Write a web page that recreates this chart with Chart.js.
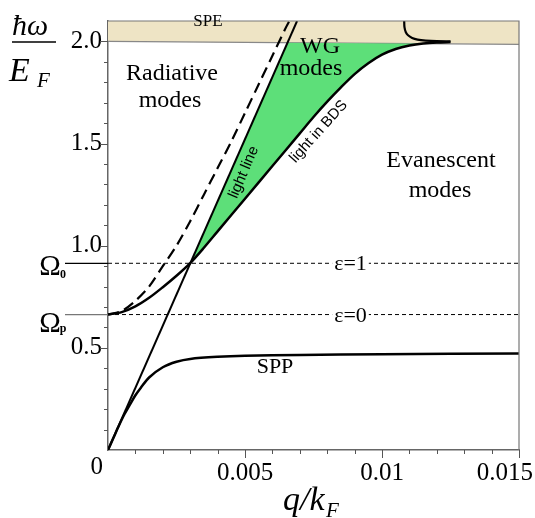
<!DOCTYPE html>
<html>
<head>
<meta charset="utf-8">
<script src="https://cdn.jsdelivr.net/npm/chart.js@4.4.1/dist/chart.umd.min.js"></script>
<style>
  body { margin: 0; background: #fff; }
</style>
</head>
<body>
<canvas id="chart" width="535" height="518"></canvas>
<script>
// dispersion curves (q/kF, hbar*omega/EF)
const qLight = [0, 0.0069];
const wLight = [0, 2.1];

const qDashed = [0, 0.0005, 0.001, 0.0015, 0.002, 0.0025, 0.003, 0.0035, 0.004, 0.0045, 0.005, 0.0055, 0.006, 0.0065, 0.0067];
const wDashed = [0.663, 0.68, 0.73, 0.80, 0.90, 1.0, 1.12, 1.25, 1.38, 1.51, 1.65, 1.79, 1.93, 2.07, 2.12];

const qBds = [0, 0.0005, 0.001, 0.0015, 0.002, 0.0025, 0.003, 0.0035, 0.004, 0.005, 0.006, 0.007, 0.0075, 0.008, 0.0085, 0.009, 0.0095, 0.01, 0.0105, 0.011, 0.0115, 0.012, 0.0125];
const wBds = [0.663, 0.675, 0.703, 0.745, 0.797, 0.853, 0.915, 0.99, 1.07, 1.23, 1.39, 1.55, 1.63, 1.705, 1.775, 1.84, 1.893, 1.935, 1.963, 1.98, 1.99, 1.995, 1.997];

const qTop = [0.01081, 0.01082, 0.01087, 0.01095, 0.0111, 0.0113, 0.0116, 0.012, 0.0125];
const wTop = [2.1, 2.07, 2.045, 2.03, 2.017, 2.009, 2.004, 2.001, 2.0];

const qSpp = [0, 0.0002, 0.0004, 0.0006, 0.0008, 0.001, 0.0012, 0.0015, 0.002, 0.0025, 0.003, 0.004, 0.005, 0.007, 0.01, 0.015];
const wSpp = [0, 0.06, 0.12, 0.175, 0.222, 0.268, 0.305, 0.355, 0.405, 0.432, 0.446, 0.456, 0.461, 0.465, 0.469, 0.472];

// WG region upper edge (light line, then SPE edge)
const qWg = [0.003, 0.00655, 0.0118];
const wWg = [0.913, 1.994, 1.989];

// SPE band lower edge
const qSpe = [0, 0.015];
const wSpe = [2.0, 1.986];

const omega0 = 0.914;
const omegaP = 0.663;

const yTickValues = [0.5, 1.0, 1.5, 2.0];
const yTickLabels = ['0.5', '1.0', '1.5', '2.0'];
const xTickValues = [0.005, 0.01, 0.015];
const xTickLabels = ['0.005', '0.01', '0.015'];

const pts = (qs, ws) => qs.map((q, i) => ({ x: q, y: ws[i] }));
const serif = '"Liberation Serif", "Times New Roman", serif';
const sans = '"Liberation Sans", Arial, sans-serif';

const deco = {
  id: 'deco',
  afterDatasetsDraw(chart) {
    const { ctx, chartArea: a, scales: { x, y } } = chart;
    ctx.save();

    // frame top/right
    ctx.strokeStyle = '#777';
    ctx.lineWidth = 1.2;
    ctx.beginPath();
    ctx.moveTo(a.left, a.top);
    ctx.lineTo(a.right, a.top);
    ctx.lineTo(a.right, a.bottom);
    ctx.stroke();

    // tick marks
    ctx.strokeStyle = '#555';
    ctx.lineWidth = 1;
    for (let i = 1; i <= 20; i++) {
      const py = Math.round(y.getPixelForValue(i / 10)) + 0.5;
      const len = i % 5 === 0 ? 8 : 4;
      ctx.beginPath();
      ctx.moveTo(a.left - len, py);
      ctx.lineTo(a.left, py);
      ctx.stroke();
    }
    for (let i = 1; i <= 15; i++) {
      const px = Math.round(x.getPixelForValue(i / 1000)) + 0.5;
      const len = i % 5 === 0 ? 8 : 4;
      ctx.beginPath();
      ctx.moveTo(px, a.bottom);
      ctx.lineTo(px, a.bottom + len);
      ctx.stroke();
    }

    // x tick labels
    ctx.fillStyle = '#000';
    ctx.font = '25px ' + serif;
    ctx.textBaseline = 'alphabetic';
    xTickValues.forEach((v, i) => {
      const w = ctx.measureText(xTickLabels[i]).width;
      let cx = x.getPixelForValue(v);
      cx = Math.min(cx, chart.width - 2 - w / 2);
      ctx.textAlign = 'center';
      ctx.fillText(xTickLabels[i], cx, 480);
    });
    ctx.textAlign = 'right';
    ctx.fillText('0', a.left - 5, 474);

    // horizontal eps lines
    const p0 = y.getPixelForValue(omega0);
    const pp = y.getPixelForValue(omegaP);
    ctx.lineWidth = 1.2;
    ctx.strokeStyle = '#000';
    ctx.beginPath();
    ctx.moveTo(65, p0);
    ctx.lineTo(a.left, p0);
    ctx.stroke();
    ctx.strokeStyle = '#777';
    ctx.beginPath();
    ctx.moveTo(65, pp);
    ctx.lineTo(a.left, pp);
    ctx.stroke();

    // Omega labels
    ctx.fillStyle = '#000';
    ctx.textAlign = 'center';
    ctx.font = '29px ' + serif;
    ctx.fillText('Ω', 50, p0 + 12);
    ctx.fillText('Ω', 50, pp + 17);
    ctx.font = 'bold 12px ' + serif;
    ctx.fillText('0', 63, p0 + 15);
    ctx.fillText('p', 63, pp + 17);

    // eps labels with white backing
    ctx.font = '22px ' + serif;
    const ex = x.getPixelForValue(0.00885);
    [['ε=1', p0], ['ε=0', pp]].forEach(([t, py]) => {
      const w = ctx.measureText(t).width;
      ctx.fillStyle = '#fff';
      ctx.fillRect(ex - w / 2 - 2, py - 8, w + 4, 16);
      ctx.fillStyle = '#000';
      ctx.fillText(t, ex, py + 7);
    });

    // region labels
    ctx.font = '24px ' + serif;
    ctx.fillText('Radiative', 172, 80);
    ctx.fillText('modes', 170, 107);
    ctx.fillText('WG', 320, 53);
    ctx.fillText('modes', 311, 75);
    ctx.fillText('Evanescent', 441, 167);
    ctx.fillText('modes', 440, 197);
    ctx.font = '22px ' + serif;
    ctx.fillText('SPP', 275, 373);
    ctx.font = '17px ' + serif;
    ctx.fillText('SPE', 208, 26);

    // rotated labels along the lines
    ctx.font = '15px ' + sans;
    ctx.save();
    ctx.translate(243, 172);
    ctx.rotate(-66.8 * Math.PI / 180);
    ctx.fillText('light line', 0, 5);
    ctx.restore();
    ctx.save();
    ctx.translate(318, 131);
    ctx.rotate(-48 * Math.PI / 180);
    ctx.fillText('light in BDS', 0, 5);
    ctx.restore();

    // axis titles
    ctx.textAlign = 'left';
    ctx.font = 'italic 30px ' + serif;
    ctx.fillText('ħω', 12, 35);
    ctx.font = 'italic 34px ' + serif;
    ctx.fillText('E', 9, 81);
    ctx.fillText('q/k', 283, 510);
    ctx.font = 'italic 21px ' + serif;
    ctx.fillText('F', 37, 87);
    ctx.fillText('F', 326, 517);
    ctx.lineWidth = 1.5;
    ctx.strokeStyle = '#000';
    ctx.beginPath();
    ctx.moveTo(12, 42);
    ctx.lineTo(56, 42);
    ctx.stroke();

    ctx.restore();
  }
};

const line = (data, extra) => Object.assign({
  data,
  borderColor: '#000',
  borderWidth: 2.5,
  pointRadius: 0,
  fill: false,
  tension: 0.3,
  order: 0,
}, extra);

new Chart(document.getElementById('chart'), {
  type: 'line',
  data: {
    datasets: [
      line(pts(qSpe, wSpe), { borderColor: '#888', borderWidth: 1.2, backgroundColor: '#eee4c5', fill: 'end', tension: 0, order: 5 }),
      line(pts(qWg, wWg), { borderWidth: 0, backgroundColor: '#5ddf79', fill: { target: 3 }, tension: 0, order: 4 }),
      line(pts(qLight, wLight), { borderWidth: 2, tension: 0 }),
      line(pts(qBds, wBds)),
      line(pts(qDashed, wDashed), { borderWidth: 2.2, borderDash: [11, 6] }),
      line(pts(qTop, wTop), { borderWidth: 2.2 }),
      line(pts(qSpp, wSpp)),
      line([{ x: 0, y: omega0 }, { x: 0.015, y: omega0 }], { borderWidth: 1, borderDash: [4, 3], tension: 0, order: 3 }),
      line([{ x: 0, y: omegaP }, { x: 0.015, y: omegaP }], { borderWidth: 1, borderDash: [4, 3], tension: 0, order: 3 }),
    ],
  },
  options: {
    responsive: false,
    animation: false,
    layout: { padding: { top: 9, right: 16, left: 0, bottom: 0 } },
    plugins: {
      legend: { display: false },
      tooltip: { enabled: false },
    },
    scales: {
      x: {
        type: 'linear',
        min: 0,
        max: 0.015,
        grid: { display: false, drawTicks: false },
        border: { color: '#666', width: 1.5 },
        ticks: { display: false },
        afterFit: (s) => { s.height = 68; },
      },
      y: {
        min: 0,
        max: 2.1,
        grid: { display: false, drawTicks: false },
        border: { color: '#666', width: 1.5 },
        afterBuildTicks: (s) => { s.ticks = yTickValues.map((v) => ({ value: v })); },
        ticks: {
          color: '#000',
          padding: 6,
          font: { family: serif, size: 25 },
          callback: (v) => yTickLabels[yTickValues.indexOf(v)],
        },
        afterFit: (s) => { s.width = 108; },
      },
    },
  },
  plugins: [deco],
});
</script>
</body>
</html>
